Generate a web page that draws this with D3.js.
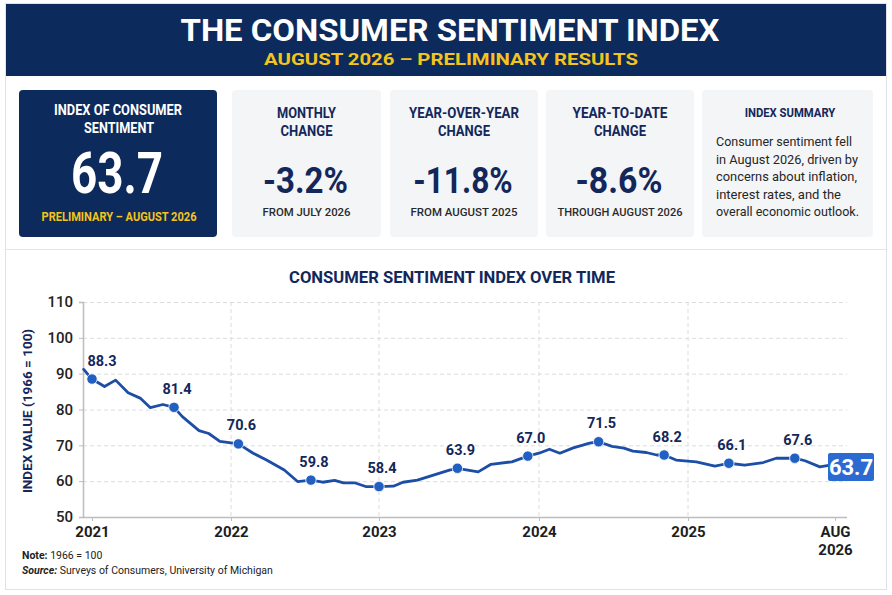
<!DOCTYPE html>
<html>
<head>
<meta charset="utf-8">
<script src="https://cdn.jsdelivr.net/npm/d3@7/dist/d3.min.js"></script>
<style>
  html, body { margin: 0; padding: 0; background: #ffffff; }
  svg { display: block; font-family: Roboto, "Noto Sans", Arial, sans-serif; }
</style>
</head>
<body>
<svg id="chart" width="892" height="595"></svg>
<script>
// ---------------- DATA ----------------
// Time position (decimal year) of each vertex of the index line
const timePoints = [
  2020.94, 2021.00, 2021.09, 2021.17, 2021.26, 2021.35, 2021.42, 2021.51, 2021.59, 2021.65,
  2021.77, 2021.84, 2021.92, 2022.05, 2022.15, 2022.24, 2022.36, 2022.45, 2022.54, 2022.62,
  2022.70, 2022.76, 2022.84, 2022.91, 2023.00, 2023.09, 2023.15, 2023.24, 2023.34, 2023.44,
  2023.49, 2023.62, 2023.70, 2023.83, 2023.93, 2024.00, 2024.07, 2024.14, 2024.23, 2024.34,
  2024.40, 2024.49, 2024.57, 2024.63, 2024.72, 2024.79, 2024.84, 2024.92, 2025.09, 2025.29,
  2025.44, 2025.61, 2025.81, 2025.95, 2026.15, 2026.26, 2026.42, 2026.53, 2026.583
];
const indexValues = [
  91.2, 88.5, 86.4, 88.2, 84.7, 83.1, 80.5, 81.4, 80.6, 78.0,
  74.1, 73.3, 71.1, 70.4, 67.8, 65.9, 63.1, 59.9, 60.3, 59.7,
  60.2, 59.5, 59.5, 58.5, 58.5, 58.6, 59.7, 60.3, 61.7, 63.1,
  63.6, 62.6, 64.7, 65.4, 67.0, 67.8, 68.9, 67.8, 69.3, 70.6,
  71.0, 69.7, 69.2, 68.4, 68.0, 67.3, 67.3, 65.9, 65.4, 64.2,
  65.0, 64.5, 65.2, 66.4, 66.4, 65.7, 64.0, 64.5, 63.7
];
// Highlighted points (index into the series) and their annotation text
const markerIndex  = [1, 8, 13, 18, 24, 30, 34, 40, 46, 50, 54];
const markerLabels = ["88.3", "81.4", "70.6", "59.8", "58.4", "63.9", "67.0", "71.5", "68.2", "66.1", "67.6"];
const latestLabel = "63.7";

// Axis ticks
const yTicks = [50, 60, 70, 80, 90, 100, 110];
const xTickValues = [2021, 2022, 2023, 2024, 2025, 2026.583];
const xTickLabels = [["2021"], ["2022"], ["2023"], ["2024"], ["2025"], ["AUG", "2026"]];
const xGridValues = [2022, 2023, 2024, 2025];

// KPI cards
const kpiHeadline = { title: ["INDEX OF CONSUMER", "SENTIMENT"], value: "63.7", note: "PRELIMINARY – AUGUST 2026" };
const kpiTitles = [["MONTHLY", "CHANGE"], ["YEAR-OVER-YEAR", "CHANGE"], ["YEAR-TO-DATE", "CHANGE"]];
const kpiValues = ["-3.2%", "-11.8%", "-8.6%"];
const kpiNotes  = ["FROM JULY 2026", "FROM AUGUST 2025", "THROUGH AUGUST 2026"];
const summaryTitle = "INDEX SUMMARY";
const summaryLines = ["Consumer sentiment fell", "in August 2026, driven by", "concerns about inflation,", "interest rates, and the", "overall economic outlook."];

// ---------------- STYLE ----------------
const NAVY = "#0c2a5b";
const YELLOW = "#f4c41c";
const TEXT_NAVY = "#13275a";
const LINE = "#1d4ea6";
const DOT = "#2160c2";
const CARD_BG = "#f4f5f7";

const svg = d3.select("#chart");

function fit(sel, w) {
  const node = sel.node();
  const len = node.getComputedTextLength();
  if (w && len > 0) sel.attr("textLength", w).attr("lengthAdjust", "spacingAndGlyphs");
  return sel;
}

// outer frame
svg.append("rect").attr("x", 5.5).attr("y", 3.5).attr("width", 881).attr("height", 586)
  .attr("fill", "#fff").attr("stroke", "#dfe2e6").attr("stroke-width", 1);

// header band
svg.append("rect").attr("x", 6).attr("y", 4).attr("width", 880).attr("height", 72).attr("fill", NAVY);
fit(svg.append("text").attr("x", 450).attr("y", 41).attr("text-anchor", "middle")
  .attr("fill", "#fff").attr("font-size", 32).attr("font-weight", 700)
  .text("THE CONSUMER SENTIMENT INDEX"), 539);
fit(svg.append("text").attr("x", 451).attr("y", 65).attr("text-anchor", "middle")
  .attr("fill", YELLOW).attr("font-size", 16.5).attr("font-weight", 700)
  .text("AUGUST 2026 – PRELIMINARY RESULTS"), 374);

// divider between cards and chart
svg.append("line").attr("x1", 6).attr("x2", 886).attr("y1", 249.5).attr("y2", 249.5)
  .attr("stroke", "#e3e5e8").attr("stroke-width", 1.2);

// headline card
const c1 = svg.append("g");
c1.append("rect").attr("x", 19).attr("y", 90).attr("width", 198).attr("height", 147).attr("rx", 4).attr("fill", NAVY);
fit(c1.append("text").attr("x", 118).attr("y", 115).attr("text-anchor", "middle").attr("fill", "#fff")
  .attr("font-size", 14).attr("font-weight", 700).text(kpiHeadline.title[0]), 128);
fit(c1.append("text").attr("x", 119).attr("y", 133).attr("text-anchor", "middle").attr("fill", "#fff")
  .attr("font-size", 14).attr("font-weight", 700).text(kpiHeadline.title[1]), 70);
fit(c1.append("text").attr("x", 117).attr("y", 193).attr("text-anchor", "middle").attr("fill", "#fff")
  .attr("font-size", 58).attr("font-weight", 700).text(kpiHeadline.value), 92);
fit(c1.append("text").attr("x", 119).attr("y", 221).attr("text-anchor", "middle").attr("fill", YELLOW)
  .attr("font-size", 12.7).attr("font-weight", 700).text(kpiHeadline.note), 155);

// change cards
const cardX = [232, 390, 546];
const cardW = [149, 148, 148];
const titleW = [[59, 52], [110, 52], [95, 52]];
const valueW = [85, 99.5, 87];
const noteW = [88, 107, 125];
kpiValues.forEach((v, i) => {
  const g = svg.append("g");
  const cx = cardX[i] + cardW[i] / 2;
  g.append("rect").attr("x", cardX[i]).attr("y", 90).attr("width", cardW[i]).attr("height", 147)
    .attr("rx", 4).attr("fill", CARD_BG);
  kpiTitles[i].forEach((t, j) => {
    fit(g.append("text").attr("x", cx).attr("y", 118 + j * 17.5).attr("text-anchor", "middle")
      .attr("fill", TEXT_NAVY).attr("font-size", 14).attr("font-weight", 700).text(t), titleW[i][j]);
  });
  fit(g.append("text").attr("x", cx - 1).attr("y", 193).attr("text-anchor", "middle")
    .attr("fill", TEXT_NAVY).attr("font-size", 37.5).attr("font-weight", 700).text(v), valueW[i]);
  fit(g.append("text").attr("x", cx).attr("y", 216).attr("text-anchor", "middle")
    .attr("fill", "#2a2a2a").attr("font-size", 11.2).attr("font-weight", 500).text(kpiNotes[i]), noteW[i]);
});

// summary card
const c5 = svg.append("g");
c5.append("rect").attr("x", 702).attr("y", 90).attr("width", 171).attr("height", 147).attr("rx", 4).attr("fill", CARD_BG);
fit(c5.append("text").attr("x", 790).attr("y", 117.3).attr("text-anchor", "middle").attr("fill", TEXT_NAVY)
  .attr("font-size", 12.7).attr("font-weight", 700).text(summaryTitle), 90.7);
const sumW = [136, 142, 141, 125, 143];
summaryLines.forEach((t, i) => {
  fit(c5.append("text").attr("x", 716).attr("y", 146 + i * 17.6).attr("fill", "#262626")
    .attr("font-size", 13.3).text(t), sumW[i]);
});

// ---------------- CHART ----------------
const plotLeft = 83, plotRight = 847, plotTop = 302, plotBottom = 517;
const x = d3.scaleLinear()
  .domain([2020.935, 2021, 2022, 2023, 2024, 2025, 2026.583])
  .range([83, 92, 231, 379, 539, 688, 835]);
const y = d3.scaleLinear().domain([50, 110]).range([plotBottom, plotTop]);

fit(svg.append("text").attr("x", 452).attr("y", 283.3).attr("text-anchor", "middle")
  .attr("fill", TEXT_NAVY).attr("font-size", 16.5).attr("font-weight", 700)
  .text("CONSUMER SENTIMENT INDEX OVER TIME"), 326);

// gridlines
svg.append("g").selectAll("line").data(yTicks.filter(d => d > 50)).join("line")
  .attr("x1", plotLeft).attr("x2", plotRight)
  .attr("y1", d => y(d) + 0.5).attr("y2", d => y(d) + 0.5)
  .attr("stroke", "#dcdcdc").attr("stroke-width", 1).attr("stroke-dasharray", "4,3");
svg.append("g").selectAll("line").data(xGridValues).join("line")
  .attr("x1", d => x(d)).attr("x2", d => x(d))
  .attr("y1", plotTop).attr("y2", plotBottom)
  .attr("stroke", "#dcdcdc").attr("stroke-width", 1).attr("stroke-dasharray", "4,3");

// y axis
const yAxis = svg.append("g").attr("transform", `translate(${plotLeft},0)`)
  .call(d3.axisLeft(y).tickValues(yTicks).tickSize(4).tickPadding(6).tickFormat(d3.format("d")));
yAxis.select(".domain").attr("stroke", "#bdbdbd").attr("stroke-width", 1.5);
yAxis.selectAll(".tick line").attr("stroke", "#bdbdbd");
yAxis.selectAll(".tick text").attr("fill", "#222").attr("font-size", 15).attr("font-family", "Roboto")
  .attr("font-weight", 500);

// x axis
const xAxis = svg.append("g").attr("transform", `translate(0,${plotBottom})`)
  .call(d3.axisBottom(x).tickValues(xTickValues).tickSize(4).tickFormat(() => ""));
xAxis.select(".domain").attr("d", `M${plotLeft},0.5H${plotRight}`).attr("stroke", "#bdbdbd").attr("stroke-width", 1.5);
xAxis.selectAll(".tick line").attr("stroke", "#bdbdbd");
xAxis.selectAll(".tick").each(function(d, i) {
  const t = d3.select(this).append("text").attr("fill", "#1e1e1e").attr("font-size", 15)
    .attr("font-weight", 700).attr("font-family", "Roboto").attr("text-anchor", "middle");
  xTickLabels[i].forEach((s, j) => {
    t.append("tspan").attr("x", 0).attr("y", 20 + j * 18).text(s);
  });
});

// y axis title
svg.append("text").attr("transform", "translate(32,411) rotate(-90)").attr("text-anchor", "middle")
  .attr("fill", TEXT_NAVY).attr("font-size", 13.5).attr("font-weight", 700)
  .text("INDEX VALUE (1966 = 100)");

// line
const series = timePoints.map((t, i) => ({ t, v: indexValues[i] }));
svg.append("path").datum(series)
  .attr("fill", "none").attr("stroke", LINE).attr("stroke-width", 2.8)
  .attr("stroke-linejoin", "round").attr("stroke-linecap", "round")
  .attr("d", d3.line().x(d => x(d.t)).y(d => y(d.v)));

// markers
const markers = markerIndex.map((k, i) => ({ ...series[k], label: markerLabels[i], first: i === 0 }));
svg.append("g").selectAll("circle").data(markers).join("circle")
  .attr("cx", d => x(d.t)).attr("cy", d => y(d.v)).attr("r", 5.2)
  .attr("fill", DOT).attr("stroke", "#fff").attr("stroke-width", 0.8);
svg.append("g").selectAll("text").data(markers).join("text")
  .attr("x", d => x(d.t) + (d.first ? 10 : 3)).attr("y", d => y(d.v) - 13.5)
  .attr("text-anchor", "middle").attr("fill", TEXT_NAVY)
  .attr("font-size", 14.5).attr("font-weight", 700)
  .text(d => d.label);

// latest value badge
const last = series[series.length - 1];
const badge = svg.append("g").attr("transform", `translate(${x(last.t) + 16},${y(last.v) - 1})`);
badge.append("rect").attr("x", -23).attr("y", -14).attr("width", 46).attr("height", 28).attr("rx", 2)
  .attr("fill", "#2b6bd1");
badge.append("text").attr("y", 8).attr("text-anchor", "middle").attr("fill", "#fff")
  .attr("font-size", 22).attr("font-weight", 700).text(latestLabel);

// notes
const note = svg.append("text").attr("x", 22).attr("y", 559).attr("fill", "#222").attr("font-size", 10.5);
note.append("tspan").attr("font-weight", 700).text("Note:");
note.append("tspan").text(" 1966 = 100");
const src = svg.append("text").attr("x", 22).attr("y", 574).attr("fill", "#222").attr("font-size", 10.5);
src.append("tspan").attr("font-weight", 700).attr("font-style", "italic").text("Source:");
src.append("tspan").text(" Surveys of Consumers, University of Michigan");
</script>
</body>
</html>
